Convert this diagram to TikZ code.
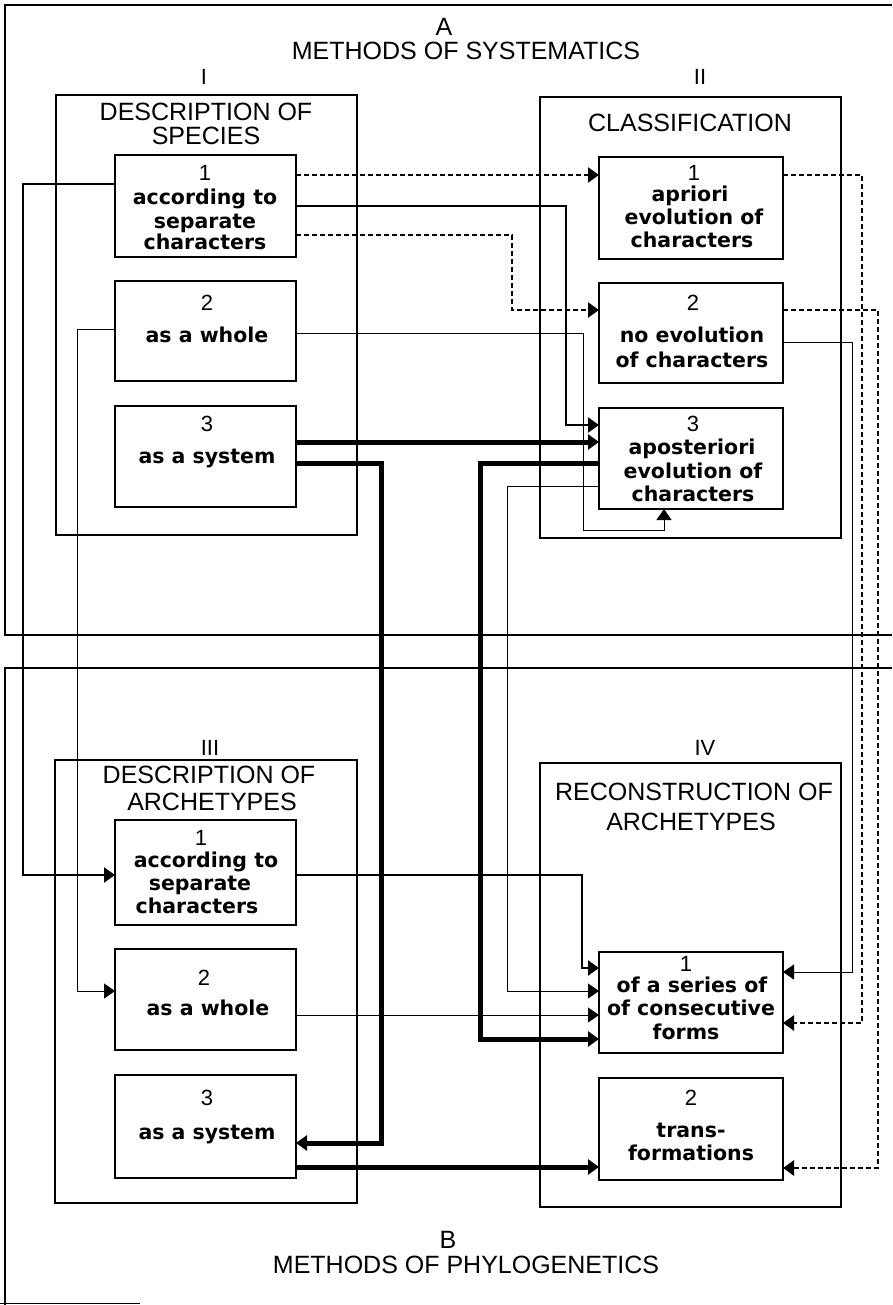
\documentclass[tikz,border=0pt]{standalone}
\usepackage{fontspec}
\setmainfont{Liberation Sans}
\newfontfamily\bxfont{DejaVu Sans}
\usetikzlibrary{arrows.meta}
\begin{document}
\begin{tikzpicture}[x=1pt,y=-1pt,
  panel/.style={draw,line width=2.5pt,inner sep=0pt,outer sep=0pt},
  ibox/.style={draw,fill=white,line width=2.3pt,inner sep=0pt,outer sep=0pt},
  big/.style={font=\fontsize{25}{25}\selectfont,inner sep=0pt,anchor=base},
  head/.style={font=\fontsize{25}{25}\selectfont,inner sep=0pt,anchor=base},
  num/.style={font=\fontsize{22}{22}\selectfont,inner sep=0pt,anchor=base},
  txt/.style={font=\bxfont\bfseries\fontsize{20.5}{20.5}\selectfont,inner sep=0pt,anchor=base},
  lthin/.style={line width=1pt},
  lmed/.style={line width=2.2pt},
  lheavy/.style={line width=5pt},
  ldash/.style={line width=2.4pt,dash pattern=on 5pt off 3pt},
  tip/.style={-{Triangle[length=11pt,width=15pt]}},
]
\fill[white] (0,0) rectangle (892,1305);
\useasboundingbox (0,0) rectangle (892,1305);

% region frames
\draw[line width=1.4pt] (892,5) -- (5,5) -- (5,635) -- (892,635);
\draw[line width=1.4pt] (892,668) -- (5,668) -- (5,1305);
\draw[line width=0.8pt] (0,1303) -- (140,1303);

% panels
\node[panel,minimum width=301pt,minimum height=440pt] (P1) at (206.5,315) {};
\node[panel,minimum width=301pt,minimum height=441pt] (P2) at (690.5,317.5) {};
\node[panel,minimum width=302pt,minimum height=443pt] (P3) at (206,981.5) {};
\node[panel,minimum width=301pt,minimum height=444pt] (P4) at (690.5,985) {};

% inner boxes
\node[ibox,minimum width=181pt,minimum height=102pt] (I1) at (205.5,206) {};
\node[ibox,minimum width=181pt,minimum height=100pt] (I2) at (205.5,331) {};
\node[ibox,minimum width=181pt,minimum height=101pt] (I3) at (205.5,456.5) {};
\node[ibox,minimum width=184pt,minimum height=102pt] (II1) at (691,208) {};
\node[ibox,minimum width=184pt,minimum height=100pt] (II2) at (691,333) {};
\node[ibox,minimum width=184pt,minimum height=101pt] (II3) at (691,458.5) {};
\node[ibox,minimum width=181pt,minimum height=105pt] (III1) at (205.5,872.5) {};
\node[ibox,minimum width=181pt,minimum height=101pt] (III2) at (205.5,999.5) {};
\node[ibox,minimum width=181pt,minimum height=103pt] (III3) at (205.5,1126.5) {};
\node[ibox,minimum width=184pt,minimum height=101pt] (IV1) at (691,1002.5) {};
\node[ibox,minimum width=184pt,minimum height=102pt] (IV2) at (691,1129) {};

% connectors
\draw[ldash,tip] ([yshift=-20pt]I1.north east) -- ([yshift=-18pt]II1.north west);
\draw[lmed,tip] ([yshift=-51pt]I1.north east) -| ([xshift=-33pt,yshift=-17pt]II3.north west) -- ([yshift=-17pt]II3.north west);
\draw[ldash,tip] ([yshift=-80pt]I1.north east) -| ([xshift=-87pt,yshift=-27pt]II2.north west) -- ([yshift=-27pt]II2.north west);
\draw[lthin,tip] ([yshift=-52pt]I2.north east) -| ([xshift=-16pt,yshift=-21pt]II3.south west) -| ([xshift=65pt]II3.south west);
\draw[lheavy,tip] ([yshift=-36pt]I3.north east) -- ([yshift=-34pt]II3.north west);
\draw[lheavy,tip] ([yshift=-57pt]I3.north east) -| ([xshift=85pt,yshift=-68pt]III3.north east) -- ([yshift=-68pt]III3.north east);
\draw[lheavy,tip] ([yshift=-55pt]II3.north west) -| ([xshift=-119pt,yshift=-87pt]IV1.north west) -- ([yshift=-87pt]IV1.north west);
\draw[lthin,tip] ([yshift=-78pt]II3.north west) -| ([xshift=-92pt,yshift=-39pt]IV1.north west) -- ([yshift=-39pt]IV1.north west);
\draw[ldash,tip] ([yshift=-18pt]II1.north east) -| ([xshift=79pt,yshift=-71pt]IV1.north east) -- ([yshift=-71pt]IV1.north east);
\draw[ldash,tip] ([yshift=-27pt]II2.north east) -| ([xshift=95pt,yshift=-90pt]IV2.north east) -- ([yshift=-90pt]IV2.north east);
\draw[lthin,tip] ([yshift=-59pt]II2.north east) -| ([xshift=69pt,yshift=-20pt]IV1.north east) -- ([yshift=-20pt]IV1.north east);
\draw[lmed,tip] ([yshift=-29pt]I1.north west) -| ([xshift=-92pt,yshift=-55pt]III1.north west) -- ([yshift=-55pt]III1.north west);
\draw[lthin,tip] ([yshift=-48pt]I2.north west) -| ([xshift=-38pt,yshift=-42pt]III2.north west) -- ([yshift=-42pt]III2.north west);
\draw[lmed,tip] ([yshift=-55pt]III1.north east) -| ([xshift=-17pt,yshift=-16pt]IV1.north west) -- ([yshift=-16pt]IV1.north west);
\draw[lthin,tip] ([yshift=-66pt]III2.north east) -- ([yshift=-63pt]IV1.north west);
\draw[lheavy,tip] ([yshift=-92pt]III3.north east) -- ([yshift=-89pt]IV2.north west);

% headings
\node[big] (lA) at (444,36) {A};
\node[big] (lMS) at (466,60) {METHODS OF SYSTEMATICS};
\node[num] (lI) at (204,85) {I};
\node[num] (lII) at (700,85) {II};
\node[head] (hI1) at (206,121) {DESCRIPTION OF};
\node[head] (hI2) at (206,145) {SPECIES};
\node[head] (hII) at (690,132) {CLASSIFICATION};
\node[num] (lIII) at (210,755) {III};
\node[num] (lIV) at (705,755) {IV};
\node[head] (hIII1) at (209,783) {DESCRIPTION OF};
\node[head] (hIII2) at (212,810) {ARCHETYPES};
\node[head] (hIV1) at (694,800) {RECONSTRUCTION OF};
\node[head] (hIV2) at (691,830) {ARCHETYPES};
\node[big] (lB) at (448,1248) {B};
\node[big] (lMP) at (466,1273) {METHODS OF PHYLOGENETICS};

% box texts
\node[num] (nI1) at (205,181) {1};
\node[txt] (aI1) at (205,205) {according to};
\node[txt] (bI1) at (205,229) {separate};
\node[txt] (cI1) at (205,250) {characters};
\node[num] (nI2) at (207,311) {2};
\node[txt] (aI2) at (207,342) {as a whole};
\node[num] (nI3) at (207,431) {3};
\node[txt] (aI3) at (207,463) {as a system};

\node[num] (nII1) at (694,181) {1};
\node[txt] (aII1) at (690,202) {apriori};
\node[txt] (bII1) at (694,225) {evolution of};
\node[txt] (cII1) at (692,248) {characters};
\node[num] (nII2) at (693,311) {2};
\node[txt] (aII2) at (692,342) {no evolution};
\node[txt] (bII2) at (692,367) {of characters};
\node[num] (nII3) at (693,431) {3};
\node[txt] (aII3) at (692,454) {aposteriori};
\node[txt] (bII3) at (693,478) {evolution of};
\node[txt] (cII3) at (693,501) {characters};

\node[num] (nIII1) at (201,845) {1};
\node[txt] (aIII1) at (206,867) {according to};
\node[txt] (bIII1) at (200,890) {separate};
\node[txt] (cIII1) at (197,913) {characters};
\node[num] (nIII2) at (204,985) {2};
\node[txt] (aIII2) at (208,1015) {as a whole};
\node[num] (nIII3) at (207,1105) {3};
\node[txt] (aIII3) at (207,1139) {as a system};

\node[num] (nIV1) at (686,971) {1};
\node[txt] (aIV1) at (692,992) {of a series of};
\node[txt] (bIV1) at (691,1015) {of consecutive};
\node[txt] (cIV1) at (686,1039) {forms};
\node[num] (nIV2) at (691,1105) {2};
\node[txt] (aIV2) at (691,1137) {trans-};
\node[txt] (bIV2) at (691,1160) {formations};
\end{tikzpicture}
\end{document}
